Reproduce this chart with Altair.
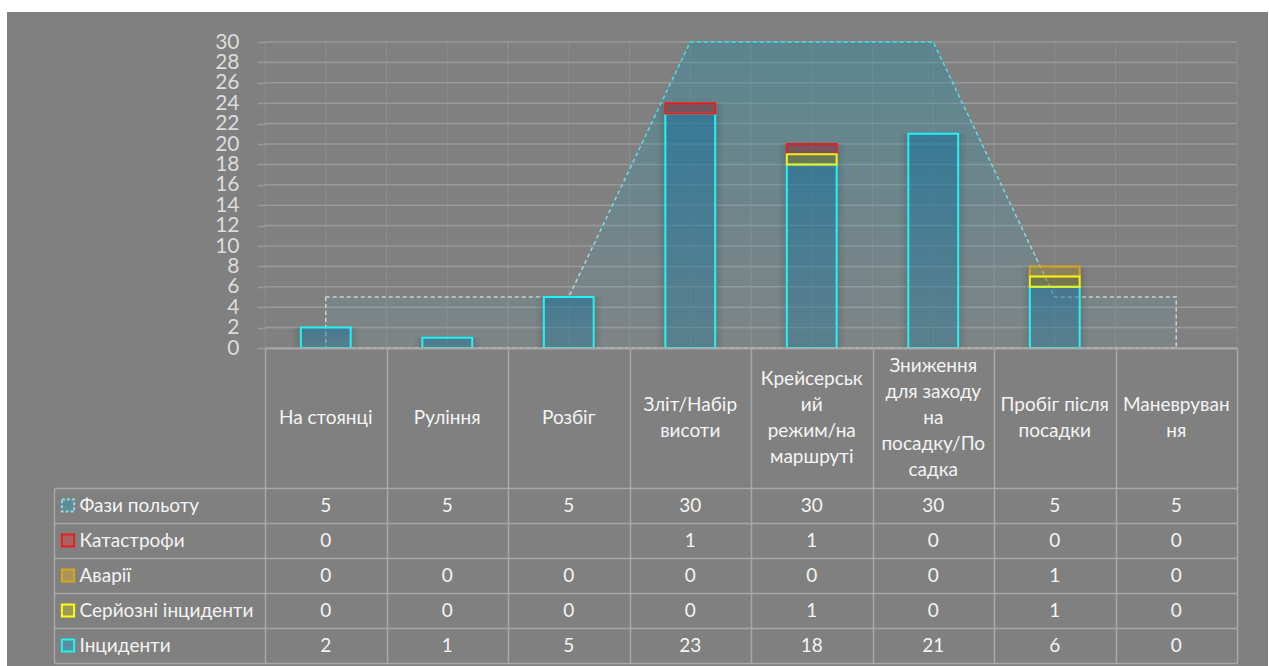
import altair as alt
import pandas as pd

# Flight phases (categories) and the wrapped header lines shown under each column
categories = [
    "На стоянці", "Руління", "Розбіг", "Зліт/Набір висоти",
    "Крейсерський режим/на маршруті",
    "Зниження для заходу на посадку/Посадка",
    "Пробіг після посадки", "Маневрування",
]
header_lines = [
    ["На стоянці"], ["Руління"], ["Розбіг"], ["Зліт/Набір", "висоти"],
    ["Крейсерськ", "ий", "режим/на", "маршруті"],
    ["Зниження", "для заходу", "на", "посадку/По", "садка"],
    ["Пробіг після", "посадки"], ["Маневруван", "ня"],
]

# Series values per phase (None = empty cell)
phases = [5, 5, 5, 30, 30, 30, 5, 5]
catastrophes = [0, None, None, 1, 1, 0, 0, 0]
accidents = [0, 0, 0, 0, 0, 0, 1, 0]
serious = [0, 0, 0, 0, 1, 0, 1, 0]
incidents = [2, 1, 5, 23, 18, 21, 6, 0]

series_names = ["Фази польоту", "Катастрофи", "Аварії", "Серйозні інциденти", "Інциденти"]
series_values = [phases, catastrophes, accidents, serious, incidents]
y_ticks = list(range(0, 31, 2))

FONT = "Lato"
PANEL = "#808080"
GRID = "#9a9a9a"
VGRID = "#8b8b8b"
TABLE = "#a8a8a8"
TEXT = "#f4f4f4"
AXIS_TEXT = "#dcdcdc"

# ---------- data tables ----------
df_cats = pd.DataFrame({"cat": categories})
df_phase = pd.DataFrame({"cat": categories, "value": phases})

df_header = pd.DataFrame([
    {"cat": c, "line": t, "k": k, "n": len(lines)}
    for c, lines in zip(categories, header_lines)
    for k, t in enumerate(lines)
])

stack_order = {"Інциденти": 0, "Серйозні інциденти": 1, "Аварії": 2, "Катастрофи": 3}
rows = []
for name, vals in zip(series_names, series_values):
    if name not in stack_order:
        continue
    for c, v in zip(categories, vals):
        rows.append({"cat": c, "series": name, "value": v or 0, "order": stack_order[name]})
df_bars = pd.DataFrame(rows)

table_rows = []
for name, vals in zip(series_names, series_values):
    for c, v in zip(categories, vals):
        table_rows.append({"cat": c, "series": name, "text": "" if v is None else str(v)})
df_table = pd.DataFrame(table_rows)
df_keys = pd.DataFrame({"series": series_names})

# ---------- scales & axes ----------
cat_scale = alt.Scale(type="band", domain=categories, paddingInner=0, paddingOuter=0)
val_scale = alt.Scale(domain=[0, 30], nice=False, zero=True)

x_axis = alt.Axis(
    title=None, grid=False, labels=False, domain=True, domainColor=TABLE,
    domainWidth=2, ticks=True, tickBand="extent", tickSize=140, tickColor=TABLE,
    tickWidth=1.5, zindex=1,
)
y_axis = alt.Axis(
    title=None, values=y_ticks, grid=False, domain=False, ticks=True, tickSize=8,
    tickColor=GRID, tickWidth=1.5, labelFont=FONT, labelFontSize=21,
    labelColor=AXIS_TEXT, labelPadding=18, labelOverlap=False, zindex=1,
)


def xcat(pos=0.5):
    return alt.X("cat:N", scale=cat_scale, axis=x_axis, bandPosition=pos)


# ---------- plot area ----------
panel = alt.Chart(pd.DataFrame({"panel": [1]})).mark_rect(color=PANEL).encode(
    x=alt.value(-258), x2=alt.value(1003), y=alt.value(-30), y2=alt.value(624)
)

hgrid = alt.Chart(pd.DataFrame({"tick": y_ticks})).mark_rule(
    color=GRID, strokeWidth=1.5
).encode(y=alt.Y("tick:Q", scale=val_scale, axis=y_axis))

vgrid_layers = [
    alt.Chart(df_cats).mark_rule(color=VGRID, strokeWidth=1).encode(x=xcat(p))
    for p in (0, 0.5, 1)
]

area_fill = alt.LinearGradient(
    gradient="linear", x1=0, x2=0, y1=0, y2=1,
    stops=[
        alt.GradientStop(color="rgba(30,140,168,0.38)", offset=0),
        alt.GradientStop(color="rgba(60,150,170,0.24)", offset=0.6),
        alt.GradientStop(color="rgba(110,160,172,0.12)", offset=1),
    ],
)
area_stroke = alt.LinearGradient(
    gradient="linear", x1=0, x2=0, y1=0, y2=1,
    stops=[
        alt.GradientStop(color="#35e2ee", offset=0),
        alt.GradientStop(color="#7fdae2", offset=0.6),
        alt.GradientStop(color="#c9d2d2", offset=0.85),
        alt.GradientStop(color="#c9d2d2", offset=1),
    ],
)
area = alt.Chart(df_phase).mark_area(
    fill=area_fill, stroke=area_stroke, strokeWidth=1.5, strokeDash=[4, 3],
    interpolate="linear",
).encode(x=xcat(0.5), y=alt.Y("value:Q", scale=val_scale, axis=y_axis))

# Soft shadow behind each column (total stacked height)
totals = alt.Chart(df_bars).transform_aggregate(
    total="sum(value)", groupby=["cat"]
).transform_filter("datum.total > 0")
shadow_layers = [
    totals.mark_bar(color="black", opacity=op, width=alt.RelativeBandSize(w)).encode(
        x=xcat(0.5),
        y=alt.Y("total:Q", scale=val_scale, axis=y_axis),
        y2=alt.datum(0),
    )
    for w, op in ((0.54, 0.035), (0.48, 0.05))
]

stacked = alt.Chart(df_bars).transform_stack(
    stack="value", as_=["y0", "y1"], groupby=["cat"],
    sort=[alt.SortField("order", order="ascending")],
).transform_filter("datum.value > 0")

bar_width = alt.RelativeBandSize(0.41)
inc_fill = alt.LinearGradient(
    gradient="linear", x1=0, x2=0, y1=0, y2=1,
    stops=[
        alt.GradientStop(color="rgba(20,120,170,0.48)", offset=0),
        alt.GradientStop(color="rgba(40,140,180,0.32)", offset=1),
    ],
)
inc_bars = stacked.transform_filter("datum.series == 'Інциденти'").mark_bar(
    fill=inc_fill, stroke="#1ff4f4", strokeWidth=2, width=bar_width
).encode(
    x=xcat(0.5),
    y=alt.Y("y0:Q", scale=val_scale, axis=y_axis),
    y2="y1:Q",
)

top_series = ["Серйозні інциденти", "Аварії", "Катастрофи"]
top_bars = stacked.transform_filter("datum.series != 'Інциденти'").mark_bar(
    strokeWidth=2, width=bar_width
).encode(
    x=xcat(0.5),
    y=alt.Y("y0:Q", scale=val_scale, axis=y_axis),
    y2="y1:Q",
    fill=alt.Fill("series:N", legend=None, scale=alt.Scale(
        domain=top_series,
        range=["rgba(120,120,30,0.42)", "rgba(190,160,40,0.32)", "rgba(150,40,50,0.45)"])),
    stroke=alt.Stroke("series:N", legend=None, scale=alt.Scale(
        domain=top_series, range=["#f2f21a", "#d6a51c", "#e81e1e"])),
)

# Category header: one text mark per wrapped line, centred in the header cell
header = alt.Chart(df_header).transform_calculate(
    pos="datum.k - (datum.n - 1) / 2"
).mark_text(
    font=FONT, fontSize=19, color=TEXT, align="center", baseline="middle"
).encode(
    x=xcat(0.5),
    y=alt.Y("pos:Q", axis=None, scale=alt.Scale(domain=[-2.5, 2.5], range=[311, 441])),
    text="line:N",
)

plot_body = alt.layer(panel, *vgrid_layers, hgrid, area, *shadow_layers, inc_bars, top_bars)
plot = alt.layer(plot_body, header).resolve_scale(y="independent").properties(
    width=972, height=306
)

# ---------- data table ----------
row_scale = alt.Scale(type="band", domain=series_names, paddingInner=0, paddingOuter=0)
tcat_scale = alt.Scale(type="band", domain=categories, paddingInner=0, paddingOuter=0)

cells = alt.Chart(df_table).mark_text(
    font=FONT, fontSize=19, color=TEXT, align="center", baseline="middle"
).encode(
    x=alt.X("cat:N", scale=tcat_scale, axis=alt.Axis(
        title=None, labels=False, ticks=False, domain=False, grid=True,
        tickBand="extent", gridColor=TABLE, gridWidth=1.5)),
    y=alt.Y("series:N", scale=row_scale, axis=alt.Axis(
        title=None, orient="left", labels=False, domain=False, grid=True,
        tickBand="extent", gridColor=TABLE, gridWidth=1.5, ticks=True,
        tickSize=211, tickColor=TABLE, tickWidth=1.5)),
    text="text:N",
)

keys = alt.Chart(df_keys).mark_square(size=150, strokeWidth=2, opacity=1).encode(
    x=alt.value(-197),
    y=alt.Y("series:N", scale=row_scale, axis=alt.Axis(
        title=None, orient="left", offset=211, domain=True, domainColor=TABLE,
        domainWidth=1.5, ticks=False, grid=False, labels=True, labelAlign="left",
        labelBaseline="middle", labelPadding=-25, labelFont=FONT, labelFontSize=19,
        labelColor=TEXT, labelLimit=230)),
    fill=alt.Fill("series:N", legend=None, scale=alt.Scale(
        domain=series_names,
        range=["#5f8c99", "#a86464", "#a8955a", "#9c9c5a", "#5c8ea2"])),
    stroke=alt.Stroke("series:N", legend=None, scale=alt.Scale(
        domain=series_names,
        range=["#8fd8e0", "#e81e1e", "#d6a51c", "#ffff10", "#1ff4f4"])),
    strokeDash=alt.StrokeDash("series:N", legend=None, scale=alt.Scale(
        domain=series_names, range=[[3, 2], [1, 0], [1, 0], [1, 0], [1, 0]])),
)

table = alt.layer(cells, keys).resolve_axis(y="independent").properties(
    width=972, height=175
)

chart = alt.vconcat(plot, table, spacing=140, bounds="flush").resolve_scale(
    x="independent", y="independent", fill="independent", stroke="independent",
    strokeDash="independent",
).properties(
    background="white",
    padding={"left": 7, "top": 12, "right": 1, "bottom": 0},
).configure_view(stroke=None)

chart.save("out.html", embed_options={"renderer": "svg", "actions": False})
